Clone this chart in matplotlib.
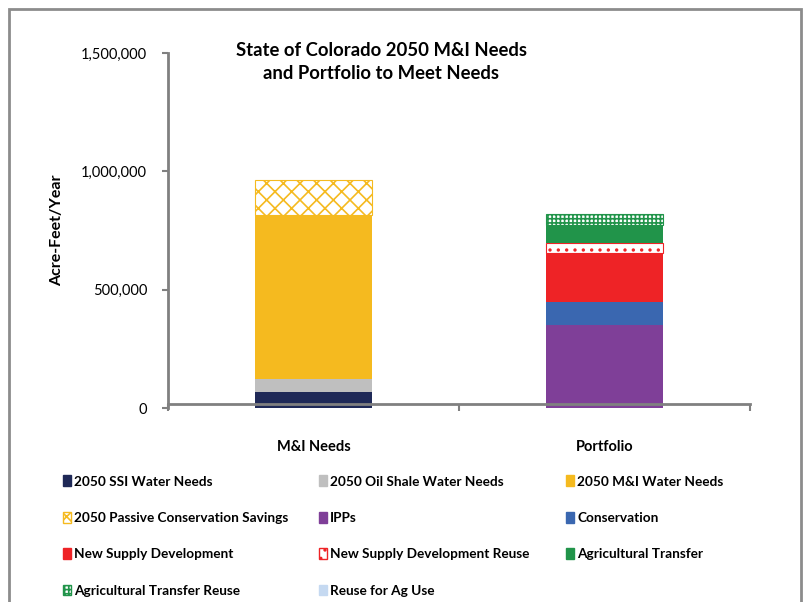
import matplotlib
matplotlib.use("Agg")
import matplotlib.pyplot as plt
from matplotlib.patches import Rectangle, Patch
from matplotlib.ticker import FuncFormatter, FixedLocator

plt.rcParams["font.family"] = ["Lato", "DejaVu Sans"]
plt.rcParams["hatch.linewidth"] = 1.2

categories = ["M&I Needs", "Portfolio"]

# stacked series, bottom to top (acre-feet/year) per category
needs_labels = ["2050 SSI Water Needs", "2050 Oil Shale Water Needs",
                "2050 M&I Water Needs", "2050 Passive Conservation Savings"]
needs_values = [68000, 55000, 692000, 148000]

portfolio_labels = ["IPPs", "Conservation", "New Supply Development",
                    "New Supply Development Reuse", "Agricultural Transfer",
                    "Agricultural Transfer Reuse", "Reuse for Ag Use"]
portfolio_values = [351000, 97000, 207000, 42000, 76000, 46000, 0]

yticks = [0, 500000, 1000000, 1500000]

style = {
    "2050 SSI Water Needs": dict(color="#1F2957"),
    "2050 Oil Shale Water Needs": dict(color="#BFBFBF"),
    "2050 M&I Water Needs": dict(color="#F5BA1F"),
    "2050 Passive Conservation Savings": dict(facecolor="white", edgecolor="#F5BA1F", hatch="xx"),
    "IPPs": dict(color="#7F3F98"),
    "Conservation": dict(color="#3A67B0"),
    "New Supply Development": dict(color="#EE2326"),
    "New Supply Development Reuse": dict(facecolor="white", edgecolor="#EE2326", hatch=".."),
    "Agricultural Transfer": dict(color="#21944A"),
    "Agricultural Transfer Reuse": dict(facecolor="white", edgecolor="#21944A", hatch="++++"),
    "Reuse for Ag Use": dict(color="#C5D9F1"),
}

fig = plt.figure(figsize=(8.05, 6.02), dpi=100)
ax = fig.add_axes([168 / 805, 1 - 408 / 602, 582 / 805, 355 / 602])

# spine position first: moving a spine resets its axis ticks
for s in ["top", "right"]:
    ax.spines[s].set_visible(False)
for s in ["left", "bottom"]:
    ax.spines[s].set_color("#808080")
    ax.spines[s].set_linewidth(2)
ax.spines["bottom"].set_position(("outward", -3))

width = 0.4
bottom = 0
for lab, val in zip(needs_labels, needs_values):
    ax.bar(0, val, width, bottom=bottom, linewidth=0.8, **style[lab])
    bottom += val
bottom = 0
for lab, val in zip(portfolio_labels, portfolio_values):
    if val > 0:
        ax.bar(1, val, width, bottom=bottom, linewidth=0.8, **style[lab])
    bottom += val

ax.set_xlim(-0.5, 1.5)
ax.set_ylim(0, 1500000)
ax.set_yticks(yticks)
ax.yaxis.set_major_formatter(FuncFormatter(lambda v, p: "{:,.0f}".format(v)))
ax.set_xticks([0, 1])
ax.xaxis.set_minor_locator(FixedLocator([-0.5, 0.5, 1.5]))
ax.tick_params(axis="x", which="major", length=0, pad=26)
ax.tick_params(axis="x", which="minor", length=5, width=1.5, color="#808080", direction="out")
ax.tick_params(axis="y", length=4, width=1.5, color="#808080", labelsize=10.5, pad=11)
ax.set_xticklabels(categories, fontweight="bold", fontsize=10.5)
ax.set_ylabel("Acre-Feet/Year", fontweight="bold", fontsize=11.5, labelpad=12)

fig.text(381 / 805, 1 - 62 / 602, "State of Colorado 2050 M&I Needs\nand Portfolio to Meet Needs",
         ha="center", va="center", fontweight="bold", fontsize=13.3, linespacing=1.45)

# legend laid out in rows of three, like the original
order = needs_labels[:3] + [needs_labels[3]] + portfolio_labels
col_x = [58 / 805, 314 / 805, 561 / 805]
for c in range(3):
    labs = order[c::3]
    handles = [Patch(**style[l]) for l in labs]
    fig.legend(handles, labs, loc="upper left", bbox_to_anchor=(col_x[c], 1 - 470 / 602),
               frameon=False, handlelength=0.55, handleheight=0.85,
               handletextpad=0.25, labelspacing=1.78, borderaxespad=0,
               prop={"weight": "bold", "size": 9.8})

fig.patches.append(Rectangle((9 / 805, -0.05), 792 / 805, 1.05 - 9 / 602, transform=fig.transFigure,
                             fill=False, edgecolor="#8C8C8C", linewidth=2))

fig.savefig("out.png", dpi=100)
